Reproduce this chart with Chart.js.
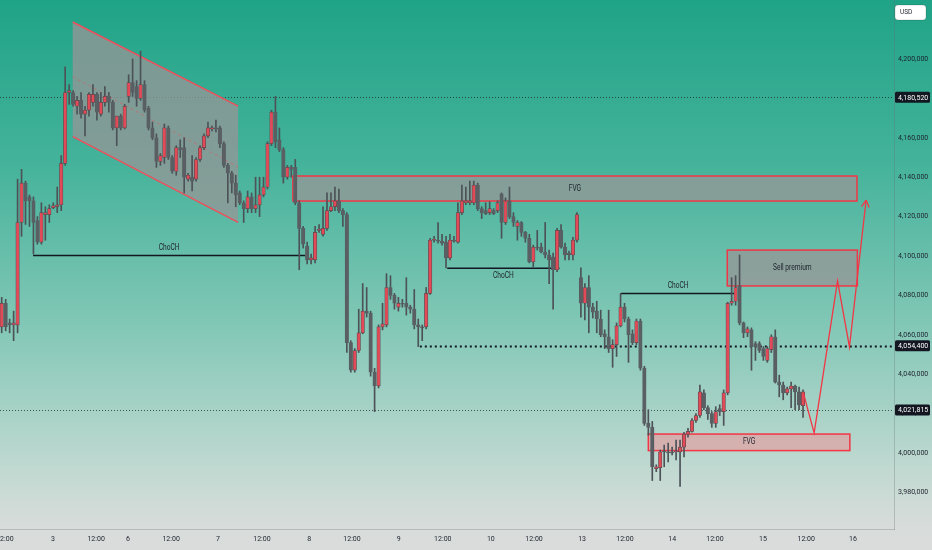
<!DOCTYPE html>
<html>
<head>
<meta charset="utf-8">
<script src="https://cdn.jsdelivr.net/npm/chart.js@4.4.1/dist/chart.umd.min.js"></script>
<style>
  html, body { margin: 0; padding: 0; background: #d9dcdb; }
  #wrap { width: 932px; height: 550px; }
</style>
</head>
<body>
<div id="wrap"><canvas id="chart" width="932" height="550"></canvas></div>
<script>
// hourly candles, prices in thousands
const opens = [4064,4076,4066,4065,4065,4117,4137,4130,4128,4118,4107,4121,4121,4124.5,4125,4126,4147,4183,4183,4176,
  4179,4172,4174,4178,4182,4172,4178,4181,4178,4165,4171,4165,4181,4188,4186,4180,4187,4175,4165,4160,
  4148,4150,4165,4150,4143,4155,4155,4139,4140,4139,4149,4155,4161,4164.5,4165,4165,4157,4146,4142,4137,
  4132,4127,4124,4130,4124,4126,4131,4135,4157,4173,4159,4154,4140,4145,4145,4127,4114,4105,4098,4098,
  4113,4111,4114,4123,4125,4128,4123,4121,4056,4042,4052,4061,4072,4071,4041,4034,4064,4065,4084,4080,
  4074,4076,4076,4074,4073,4065,4064,4064,4081,4108,4108,4107.5,4107,4099,4108,4107,4122,4127,4127,4127,
  4136,4124,4123,4122,4123,4123,4131.5,4117,4128,4120,4115,4117,4112,4109,4097,4104.5,4104.5,4102,4100.5,4099.5,
  4093,4113,4104.5,4101.5,4100.5,4108,4089,4076,4084,4074,4072,4068,4060.5,4059,4053,4055,4064.5,4074,4068,4060.5,
  4056,4067,4043,4015,4013,3992,3992.5,4001,4000.5,4000.5,4000.5,4000.5,4003,4009.5,4011,4016.5,4019,4030.5,4023,4020,
  4015,4022.5,4021,4030.5,4076,4077,4085,4066,4061,4062.5,4055.5,4055.5,4053,4047,4052.5,4059,4036,4034.5,4030.5,4032.5,
  4034,4031,4024];
const highs = [4079,4078,4068,4072,4139,4144,4138,4131,4130,4120,4127,4125,4126,4127,4135,4151,4196,4187,4184,4181,
  4183,4176,4183,4187,4183,4183,4186,4183,4179,4171,4172,4177,4192,4200,4189,4204,4189,4176,4168,4162,
  4152,4167,4166,4151,4156,4159,4160,4142,4151,4150,4156,4162,4168,4166,4169,4166,4158,4147,4143,4141,
  4133,4128,4133,4132,4140,4140,4140,4158,4174,4181,4165,4155,4146,4146,4149,4128,4115,4107,4101,4115,
  4116,4125,4132,4132,4135,4134,4124,4122,4057,4053,4073,4086,4084,4072,4043,4065,4076,4091,4090,4081,
  4079,4078,4089,4075,4083,4068,4065,4084,4109,4110,4117,4111,4110,4111,4110,4127,4136,4135,4138,4138,
  4137,4125,4127,4127.5,4124,4128,4132,4129.5,4135,4122,4118,4117.5,4112.5,4111,4105.5,4113,4106.5,4117,4103,4101.5,
  4114,4116,4106.5,4102.5,4109.5,4122,4094,4086,4090,4076,4077,4072.5,4062.5,4072.5,4057.5,4066,4081,4076,4069,4062.5,
  4068,4068,4044,4022,4016,3994,4001.5,4004,4005,4003,4006.5,4006.5,4010.5,4012.5,4017.5,4020,4034.5,4032,4024,4021,
  4023.5,4024.5,4032,4076.5,4089,4090,4100.5,4066.5,4064,4063.5,4056.5,4056.5,4054,4054,4060,4062.5,4039.5,4036,4033.5,4036,
  4034.5,4033.5,4032];
const lows = [4061,4062,4061,4057,4061,4110,4116,4115,4101,4106,4106,4108,4117,4124,4122,4123,4146,4177,4176,4172,
  4170,4161,4171,4176,4169,4171,4176,4173,4164,4156,4164,4164.5,4178,4181,4176,4179,4173,4164,4159,4145,
  4146,4147,4149,4142,4141,4150,4132,4138,4133,4138,4148,4154,4160,4163.5,4163,4155,4145,4127,4132,4125,
  4126,4117,4122,4122,4122,4120,4130,4134,4156,4155,4153,4137,4139,4140,4126,4093,4104,4096,4096,4096.5,
  4112,4110,4113,4122.5,4123,4122,4115,4051,4041,4041,4051,4060.5,4069,4039,4021,4033,4062.5,4064,4078,4073,
  4072,4074,4070,4071,4063,4054,4057,4063,4080.5,4107,4106.5,4105.5,4094,4098,4107,4106.5,4121,4126,4126,4126,
  4123,4119,4121,4121,4121,4122,4109,4116,4119,4115,4108,4110,4107,4096.5,4094.5,4103,4101.5,4099,4086,4073,
  4092,4104,4098,4098,4098,4107,4069,4067.5,4061,4068.5,4061,4059,4053,4051,4043.5,4049,4064,4066.5,4046,4055,
  4055,4042,4014,4009,3986,3990.5,3986,3993,3995.5,3999,3996.5,3983,3998,4008,4010.5,4015.5,4018,4022,4017,4013,
  4013,4019,4014,4029.5,4075,4075,4065,4058.5,4059,4042,4047,4051,4047,4046,4051,4035.5,4028.5,4027,4029.5,4023,
  4022,4022,4018];
const closes = [4076,4064,4065,4066,4117,4137,4128,4128,4117,4107,4122,4122,4124,4125.5,4126,4147,4183,4184,4177,4179,
  4172,4174,4182,4182,4173,4178,4181,4178,4165,4171,4165,4176,4188,4183,4180,4187,4174,4165,4160,4148,
  4151,4165,4150,4143,4155,4154,4140,4141,4138,4149,4155,4161,4165,4165,4164.5,4157,4146,4142,4137,4131,
  4127,4124,4130,4124,4126,4131,4135,4157,4173,4158,4154,4140,4145,4144,4127,4114,4106,4098,4099,4112,
  4113.5,4114,4123,4125,4128,4123,4121,4056,4042,4052,4061,4072,4071,4041,4034,4064,4065.5,4084,4080,4076,
  4076,4075.5,4074,4073,4065,4064,4063.5,4081,4108,4108.5,4107.5,4106.5,4099,4108,4107.5,4122,4128,4128,4128,4136,
  4124,4122,4121.5,4124,4121.5,4127,4117,4128,4120,4117,4117,4112,4109,4097,4104.5,4104,4102,4100.5,4098,4093,
  4113,4104.5,4100.5,4100.5,4108,4121,4076,4084,4074,4071.5,4068,4060,4059,4053,4055,4064.5,4074,4068,4060,4056,
  4067,4043,4015,4013,3993,3993,4000.5,4000.5,4000,4000,4001,4003,4009.5,4011,4016.5,4019,4031,4023,4020,4015,
  4021,4021,4030.5,4076,4077,4084,4066,4061,4063,4054,4054,4052,4049,4053,4059,4036,4034.5,4030.5,4032.5,4034,
  4031,4024.5,4031];

// time axis: bar index of each label
const timeTickPos = [0.8, 12.9, 23.8, 31.8, 42.7, 54.5, 65.6, 77.5, 88.3, 100.1, 111.2, 123.3, 134.2, 146.3, 157.1, 169, 179.8, 191.9, 202.8, 214.6];
const timeTickLabels = ['12:00', '3', '12:00', '6', '12:00', '7', '12:00', '8', '12:00', '9', '12:00', '10', '12:00', '13', '12:00', '14', '12:00', '15', '12:00', '16'];
const priceTicks = [3980000, 4000000, 4020000, 4040000, 4060000, 4080000, 4100000, 4120000, 4140000, 4160000, 4180000, 4200000];

// drawings (bar index, price in thousands)
const channelTop = [[17.9, 4218.8], [59.6, 4176.1]];
const channelBottom = [[17.9, 4160.6], [59.6, 4117.1]];
const channelMid = [[17.9, 4191.0], [59.6, 4145.2]];
const zoneFrom = [73.4, 182.9, 163.0];
const zoneTo = [215.6, 215.7, 213.8];
const zoneLow = [4127.9, 4084.8, 4001.2];
const zoneHigh = [4140.6, 4103.0, 4009.6];
const zoneText = ['FVG', 'Sell premium', 'FVG'];
const zoneRed = [false, false, true];
const chochFrom = [7.9, 112.3, 156.1];
const chochTo = [76.5, 140.6, 184.9];
const chochPrice = [4100.2, 4093.8, 4081.0];
const chochAbove = [true, false, true];
const pathIdx = [202.1, 204.8, 210.7, 213.7, 217.9];
const pathPrice = [4030.4, 4010.2, 4087.3, 4053.8, 4128.4];
const levels = [4180520, 4054400, 4021815];
const levelFrom = [null, 105.4, null];
const levelBold = [false, true, false];

const K = 1000;
const RED = '#e34a58';
const GRAY = '#595f63';
const ZONE_GRAY = 'rgba(150,150,150,0.76)';
const ZONE_PINK = 'rgba(250,130,140,0.45)';
const fmt = v => String(Math.round(v)).replace(/\B(?=(\d{3})+(?!\d))/g, ',');

const bodyData = opens.map((o, i) => ({ x: i, y: [o * K, closes[i] * K] }));
const wickData = lows.map((l, i) => ({ x: i, y: [l * K, highs[i] * K] }));
const bodyColors = opens.map((o, i) => closes[i] > o ? RED : GRAY);
const bodyBorders = opens.map((o, i) => closes[i] > o ? '#5a4c50' : GRAY);

// narrow text, like the screenshot
function label(ctx, text, x, y) {
  ctx.save();
  ctx.translate(x, y);
  ctx.scale(0.78, 1);
  ctx.fillText(text, 0, 0);
  ctx.restore();
}

const drawings = {
  id: 'drawings',
  beforeDraw(chart) {
    const { ctx, width, height } = chart;
    const g = ctx.createLinearGradient(0, 0, 0, height);
    g.addColorStop(0, '#1fa387');
    g.addColorStop(0.3, '#45b39b');
    g.addColorStop(0.6, '#84c8b7');
    g.addColorStop(0.85, '#c0d9d1');
    g.addColorStop(0.96, '#d8dcdb');
    g.addColorStop(1, '#d9dcdb');
    ctx.save();
    ctx.fillStyle = g;
    ctx.fillRect(0, 0, width, height);
    ctx.restore();
  },
  beforeDatasetsDraw(chart) {
    const { ctx, chartArea } = chart;
    const xs = chart.scales.x, ys = chart.scales.y;
    const px = v => xs.getPixelForValue(v);
    const py = p => ys.getPixelForValue(p * K);
    ctx.save();

    // levels
    levels.forEach((lv, i) => {
      const y = Math.round(ys.getPixelForValue(lv)) + 0.5;
      ctx.beginPath();
      ctx.setLineDash(levelBold[i] ? [2, 3] : [1, 2]);
      ctx.lineWidth = levelBold[i] ? 2 : 1;
      ctx.strokeStyle = levelBold[i] ? '#131722' : 'rgba(30,40,40,0.75)';
      ctx.moveTo(levelFrom[i] === null ? chartArea.left : px(levelFrom[i]), y);
      ctx.lineTo(chartArea.right, y);
      ctx.stroke();
    });
    ctx.setLineDash([]);

    // channel
    ctx.beginPath();
    ctx.moveTo(px(channelTop[0][0]), py(channelTop[0][1]));
    ctx.lineTo(px(channelTop[1][0]), py(channelTop[1][1]));
    ctx.lineTo(px(channelBottom[1][0]), py(channelBottom[1][1]));
    ctx.lineTo(px(channelBottom[0][0]), py(channelBottom[0][1]));
    ctx.closePath();
    ctx.fillStyle = ZONE_GRAY;
    ctx.fill();
    ctx.strokeStyle = '#ee4f5c';
    ctx.lineWidth = 1.5;
    [channelTop, channelBottom].forEach(l => {
      ctx.beginPath();
      ctx.moveTo(px(l[0][0]), py(l[0][1]));
      ctx.lineTo(px(l[1][0]), py(l[1][1]));
      ctx.stroke();
    });
    ctx.beginPath();
    ctx.setLineDash([3, 3]);
    ctx.lineWidth = 1;
    ctx.strokeStyle = 'rgba(238,79,92,0.5)';
    ctx.moveTo(px(channelMid[0][0]), py(channelMid[0][1]));
    ctx.lineTo(px(channelMid[1][0]), py(channelMid[1][1]));
    ctx.stroke();
    ctx.setLineDash([]);

    ctx.font = '8.5px Roboto, "Liberation Sans", sans-serif';
    ctx.textAlign = 'center';
    ctx.textBaseline = 'middle';

    // zones
    zoneFrom.forEach((f, i) => {
      const x0 = px(f), x1 = px(zoneTo[i]);
      const y0 = py(zoneHigh[i]), y1 = py(zoneLow[i]);
      ctx.fillStyle = zoneRed[i] ? ZONE_PINK : ZONE_GRAY;
      ctx.fillRect(x0, y0, x1 - x0, y1 - y0);
      ctx.strokeStyle = '#f23645';
      ctx.lineWidth = 1.5;
      ctx.strokeRect(x0, y0, x1 - x0, y1 - y0);
      ctx.fillStyle = '#1e222d';
      label(ctx, zoneText[i], (x0 + x1) / 2, (y0 + y1) / 2);
    });

    // ChoCH lines
    chochFrom.forEach((f, i) => {
      const x0 = px(f), x1 = px(chochTo[i]), y = py(chochPrice[i]);
      ctx.beginPath();
      ctx.strokeStyle = '#131722';
      ctx.lineWidth = 1.5;
      ctx.moveTo(x0, y);
      ctx.lineTo(x1, y);
      ctx.stroke();
      ctx.fillStyle = '#1e222d';
      label(ctx, 'ChoCH', (x0 + x1) / 2, chochAbove[i] ? y - 7.5 : y + 7.5);
    });
    ctx.restore();
  },
  afterDatasetsDraw(chart) {
    const { ctx } = chart;
    const xs = chart.scales.x, ys = chart.scales.y;
    const px = v => xs.getPixelForValue(v);
    const py = p => ys.getPixelForValue(p * K);
    ctx.save();
    // projected path
    ctx.beginPath();
    ctx.strokeStyle = '#f23645';
    ctx.lineWidth = 1.3;
    pathIdx.forEach((v, i) => {
      const x = px(v), y = py(pathPrice[i]);
      if (i === 0) ctx.moveTo(x, y); else ctx.lineTo(x, y);
    });
    ctx.stroke();
    const n = pathIdx.length;
    const ex = px(pathIdx[n - 1]), ey = py(pathPrice[n - 1]);
    const sx = px(pathIdx[n - 2]), sy = py(pathPrice[n - 2]);
    const a = Math.atan2(ey - sy, ex - sx);
    ctx.beginPath();
    [a + Math.PI - 0.5, a + Math.PI + 0.5].forEach(b => {
      ctx.moveTo(ex, ey);
      ctx.lineTo(ex + 8 * Math.cos(b), ey + 8 * Math.sin(b));
    });
    ctx.stroke();
    ctx.restore();
  },
  afterDraw(chart) {
    const { ctx, chartArea } = chart;
    const ys = chart.scales.y;
    ctx.save();
    ctx.font = '7px Roboto, "Liberation Sans", sans-serif';
    ctx.textBaseline = 'middle';
    ctx.textAlign = 'left';
    levels.forEach(lv => {
      const y = ys.getPixelForValue(lv);
      ctx.fillStyle = '#131722';
      ctx.beginPath();
      ctx.roundRect(chartArea.right + 1, y - 5.5, 35, 11, 1.5);
      ctx.fill();
      ctx.fillStyle = '#ffffff';
      ctx.fillText(fmt(lv), chartArea.right + 4, y + 0.5);
    });
    // currency box
    ctx.beginPath();
    ctx.roundRect(chartArea.right + 1, 5, 31, 15, 3);
    ctx.fillStyle = '#ffffff';
    ctx.fill();
    ctx.strokeStyle = 'rgba(0,0,0,0.15)';
    ctx.lineWidth = 1;
    ctx.stroke();
    ctx.fillStyle = '#1e222d';
    ctx.font = '6.5px Roboto, "Liberation Sans", sans-serif';
    ctx.fillText('USD', chartArea.right + 6, 12.5);
    ctx.restore();
  }
};

Chart.defaults.font.family = 'Roboto, "Liberation Sans", sans-serif';

new Chart(document.getElementById('chart'), {
  type: 'bar',
  data: {
    datasets: [
      {
        label: 'body',
        data: bodyData,
        backgroundColor: bodyColors,
        borderColor: bodyBorders,
        borderWidth: 0.7,
        borderSkipped: false,
        barThickness: 3.5,
        minBarLength: 1,
        grouped: false
      },
      {
        label: 'wick',
        data: wickData,
        backgroundColor: '#4c5257',
        barThickness: 1,
        minBarLength: 1,
        grouped: false
      }
    ]
  },
  options: {
    responsive: false,
    animation: false,
    devicePixelRatio: 1,
    layout: { padding: 0, autoPadding: false },
    plugins: { legend: { display: false }, tooltip: { enabled: false } },
    scales: {
      x: {
        type: 'linear',
        min: -0.43,
        max: 224.93,
        offset: false,
        bounds: 'data',
        grid: { display: false, drawTicks: false },
        border: { display: true, color: 'rgba(100,110,110,0.3)' },
        afterBuildTicks: s => { s.ticks = timeTickPos.map(v => ({ value: v })); },
        afterFit: s => { s.height = 21; s.paddingLeft = 0; s.paddingRight = 0; },
        ticks: {
          autoSkip: false,
          maxRotation: 0,
          minRotation: 0,
          padding: 6,
          color: '#1e222d',
          font: { size: 7 },
          callback: (v, i) => timeTickLabels[i]
        }
      },
      y: {
        position: 'right',
        min: 3961400,
        max: 4229950,
        beginAtZero: false,
        bounds: 'data',
        grid: { display: false, drawTicks: false },
        border: { display: true, color: 'rgba(100,110,110,0.3)' },
        afterBuildTicks: s => { s.ticks = priceTicks.map(v => ({ value: v })); },
        afterFit: s => { s.width = 38; s.paddingTop = 0; s.paddingBottom = 0; },
        ticks: {
          padding: 4,
          color: '#1e222d',
          font: { size: 7 },
          callback: v => fmt(v)
        }
      }
    }
  },
  plugins: [drawings]
});
</script>
</body>
</html>
